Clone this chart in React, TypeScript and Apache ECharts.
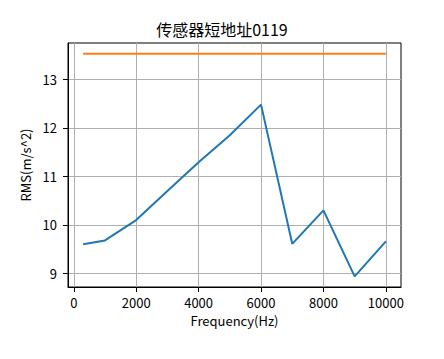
import React, { useEffect, useRef } from "react";
import * as echarts from "echarts";

const frequencies = [300, 1000, 2000, 3000, 4000, 5000, 6000, 7000, 8000, 9000, 10000];
const rmsValues = [9.6, 9.68, 10.1, 10.7, 11.29, 11.85, 12.48, 9.61, 10.3, 8.94, 9.66];
const thresholdX = [300, 10000];
const thresholdValue = 13.53;
const xTicks = [0, 2000, 4000, 6000, 8000, 10000];
const yTicks = [9, 10, 11, 12, 13];
const titleText = "传感器短地址0119";

const FONT = "'Noto Sans CJK SC', sans-serif";

export default function App() {
  const ref = useRef<HTMLDivElement>(null);
  useEffect(() => {
    if (!ref.current) return;
    const chart = echarts.init(ref.current, undefined, { renderer: "svg" });
    chart.setOption({
      animation: false,
      backgroundColor: "#ffffff",
      title: {
        text: titleText,
        left: "center",
        top: 16,
        textStyle: { fontFamily: FONT, fontSize: 16, fontWeight: "normal", color: "#000" },
      },
      grid: {
        left: 68,
        right: 43,
        top: 43,
        bottom: 72,
        show: true,
        borderColor: "#000",
        borderWidth: 1,
        backgroundColor: "transparent",
      },
      xAxis: {
        type: "value",
        min: -185,
        max: 10485,
        name: "Frequency(Hz)",
        nameLocation: "middle",
        nameGap: 27,
        nameTextStyle: { fontFamily: FONT, fontSize: 13, color: "#000" },
        axisLine: { show: true, onZero: false, lineStyle: { color: "#000", width: 1 } },
        axisTick: { show: true, length: 5, lineStyle: { color: "#000" }, customValues: xTicks },
        axisLabel: {
          fontFamily: FONT,
          fontSize: 13,
          color: "#000",
          margin: 9,
          customValues: xTicks,
          formatter: (v: number) => String(v),
        },
        splitLine: { show: true, lineStyle: { color: "#b0b0b0", width: 1 } },
      },
      yAxis: {
        type: "value",
        min: 8.72,
        max: 13.75,
        name: "RMS(m/s^2)",
        nameLocation: "middle",
        nameGap: 31,
        nameTextStyle: { fontFamily: FONT, fontSize: 13, color: "#000" },
        axisLine: { show: true, onZero: false, lineStyle: { color: "#000", width: 1 } },
        axisTick: { show: true, length: 5, lineStyle: { color: "#000" }, customValues: yTicks },
        axisLabel: {
          fontFamily: FONT,
          fontSize: 13,
          color: "#000",
          margin: 11,
          customValues: yTicks,
          formatter: (v: number) => String(v),
        },
        splitLine: { show: true, lineStyle: { color: "#b0b0b0", width: 1 } },
      },
      series: [
        {
          type: "line",
          data: frequencies.map((f, i) => [f, rmsValues[i]]),
          showSymbol: false,
          lineStyle: { color: "#1f77b4", width: 2 },
          itemStyle: { color: "#1f77b4" },
        },
        {
          type: "line",
          data: thresholdX.map((f) => [f, thresholdValue]),
          showSymbol: false,
          lineStyle: { color: "#ff7f0e", width: 2 },
          itemStyle: { color: "#ff7f0e" },
        },
      ],
    });
    return () => chart.dispose();
  }, []);
  return <div ref={ref} style={{ width: 444, height: 359, position: "absolute", left: 0, top: 0 }} />;
}
